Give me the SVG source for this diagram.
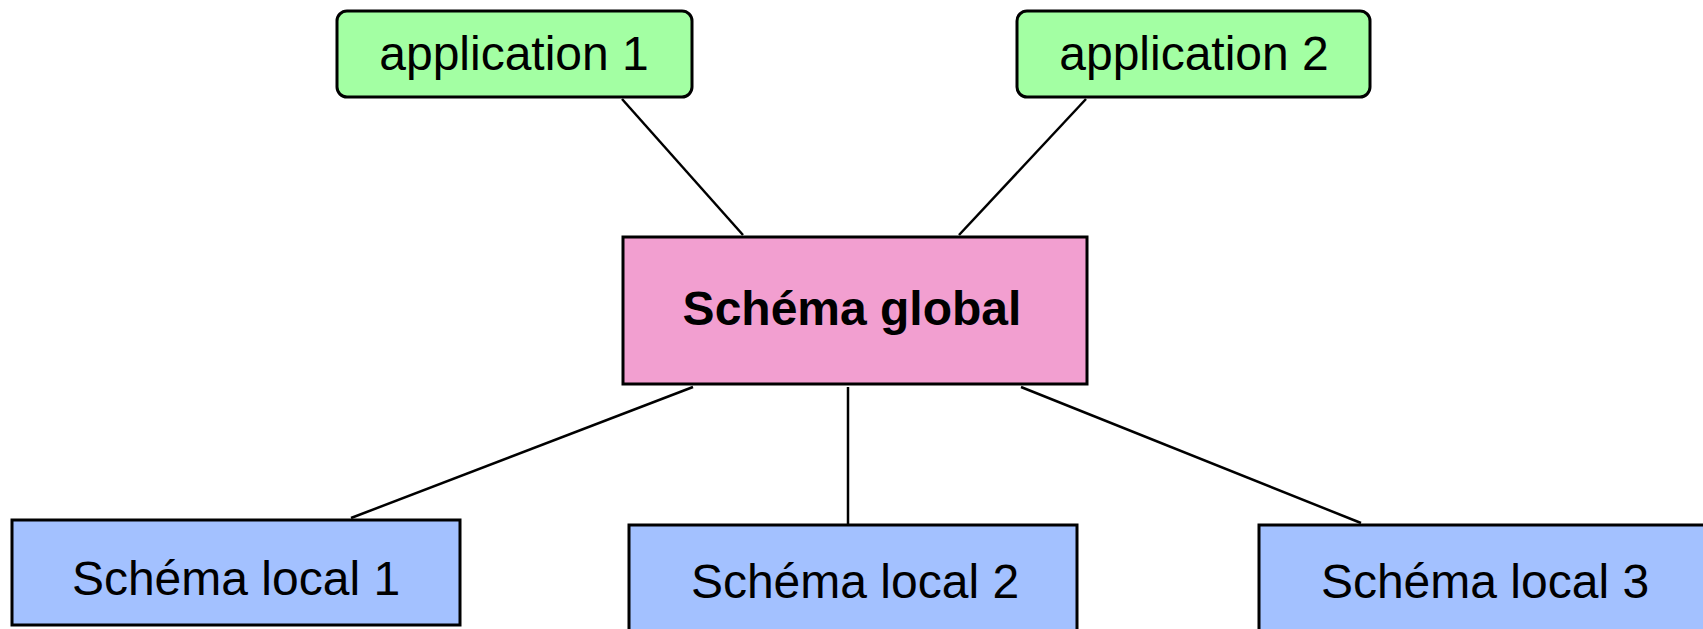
<svg xmlns="http://www.w3.org/2000/svg" width="1703" height="629" viewBox="0 0 1703 629">
<style>
.box{stroke:#000;stroke-width:3}
.app{fill:#A3FFA3}
.glob{fill:#F29FD0}
.loc{fill:#A3C1FF}
.t{font-family:"Liberation Sans",Arial,sans-serif;font-size:48px;fill:#000;text-anchor:middle}
.b{font-weight:bold;font-size:48px}
.c line{stroke:#000;stroke-width:2.5}
</style>
<rect width="1703" height="629" fill="#fff"/>
<g class="c" id="connectors">
<line x1="622" y1="99" x2="743" y2="235"/>
<line x1="1086" y1="99" x2="959" y2="235"/>
<line x1="693" y1="387" x2="351" y2="518"/>
<line x1="848" y1="387" x2="848" y2="525"/>
<line x1="1021" y1="387" x2="1361" y2="523"/>
</g>
<g id="app1">
<rect class="box app" x="337" y="11" width="355" height="86" rx="10"/>
<text class="t" x="514" y="70">application 1</text>
</g>
<g id="app2">
<rect class="box app" x="1017" y="11" width="353" height="86" rx="10"/>
<text class="t" x="1194" y="70">application 2</text>
</g>
<g id="global">
<rect class="box glob" x="623" y="237" width="464" height="147"/>
<text class="t b" x="852" y="325">Schéma global</text>
</g>
<g id="local1">
<rect class="box loc" x="12" y="520" width="448" height="105"/>
<text class="t" x="236" y="595">Schéma local 1</text>
</g>
<g id="local2">
<rect class="box loc" x="629" y="525" width="448" height="115"/>
<text class="t" x="855" y="598">Schéma local 2</text>
</g>
<g id="local3">
<rect class="box loc" x="1259" y="525" width="460" height="115"/>
<text class="t" x="1485" y="598">Schéma local 3</text>
</g>
</svg>
